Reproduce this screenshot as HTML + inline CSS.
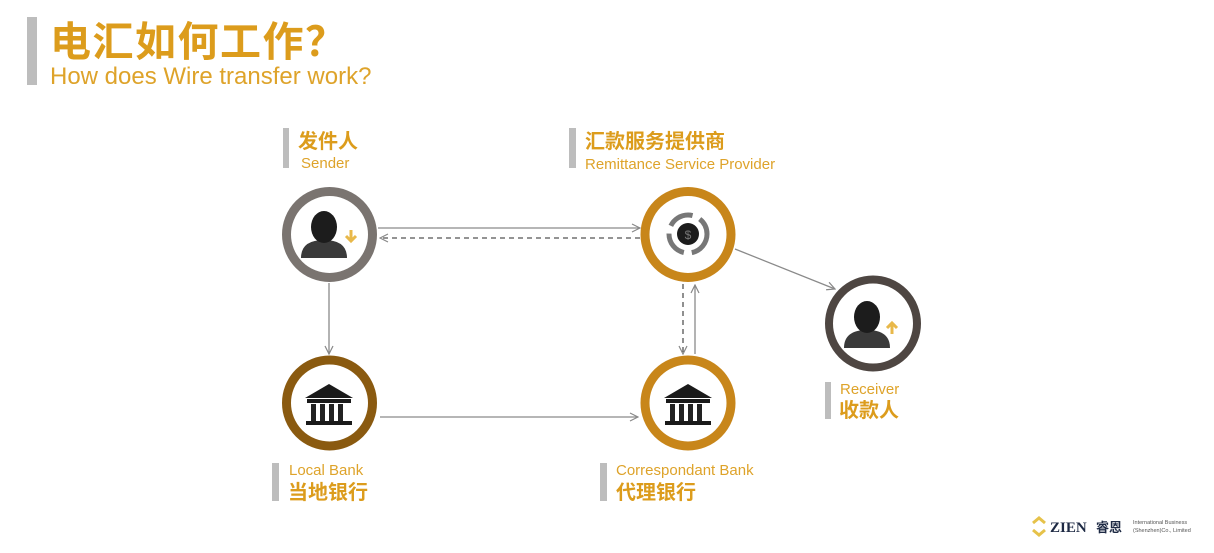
<!DOCTYPE html>
<html><head><meta charset="utf-8"><style>
body{margin:0;background:#fff;}
svg{display:block}
.cn{font-family:"Liberation Sans","Noto Sans CJK SC",sans-serif;font-weight:bold;fill:#dc9c1c}
.en{font-family:"Liberation Sans","Noto Sans CJK SC",sans-serif;fill:#dea32a}
</style></head><body>
<svg width="1214" height="553" viewBox="0 0 1214 553" xmlns="http://www.w3.org/2000/svg">
<defs>
<marker id="ah" viewBox="0 0 10 10" refX="9" refY="5" markerWidth="10" markerHeight="10" orient="auto" markerUnits="userSpaceOnUse"><path d="M1,1 L9,5 L1,9" fill="none" stroke="#888" stroke-width="1.2"/></marker>
<g id="person"><path d="M-23,22 Q-23,4 0,4 Q23,4 23,22 Z" fill="#3a3a3a"/><ellipse cx="0" cy="-9" rx="13" ry="16" fill="#1c1c1c"/></g>
<g id="bank"><path d="M-24,-8 L0,-22 L24,-8 Z" fill="#1a1a1a"/><rect x="-22" y="-7" width="44" height="4" fill="#1a1a1a"/><rect x="-18" y="-2" width="5" height="17" fill="#222"/><rect x="-9" y="-2" width="5" height="17" fill="#222"/><rect x="0" y="-2" width="5" height="17" fill="#222"/><rect x="9" y="-2" width="5" height="17" fill="#222"/><rect x="-23" y="15" width="46" height="4" fill="#1a1a1a"/></g>
</defs>
<!-- title -->
<rect x="27" y="17" width="10" height="68" fill="#bdbdbd"/>
<text x="50" y="56" class="cn" font-size="41" letter-spacing="1.5">电汇如何工作？</text>
<text x="50" y="84" class="en" font-size="24">How does Wire transfer work?</text>

<!-- labels -->
<rect x="283" y="128" width="6" height="40" fill="#bdbdbd"/>
<text x="298" y="148" class="cn" font-size="20">发件人</text>
<text x="301" y="168" class="en" font-size="15">Sender</text>
<rect x="569" y="128" width="7" height="40" fill="#bdbdbd"/>
<text x="585" y="148" class="cn" font-size="20">汇款服务提供商</text>
<text x="585" y="169" class="en" font-size="15">Remittance Service Provider</text>
<rect x="272" y="463" width="7" height="38" fill="#bdbdbd"/>
<text x="289" y="475" class="en" font-size="15">Local Bank</text>
<text x="288" y="499" class="cn" font-size="20">当地银行</text>
<rect x="600" y="463" width="7" height="38" fill="#bdbdbd"/>
<text x="616" y="475" class="en" font-size="15">Correspondant Bank</text>
<text x="616" y="499" class="cn" font-size="20">代理银行</text>
<rect x="825" y="382" width="6" height="37" fill="#bdbdbd"/>
<text x="840" y="394" class="en" font-size="15">Receiver</text>
<text x="839" y="417" class="cn" font-size="20">收款人</text>

<!-- connectors -->
<g stroke="#8a8a8a" stroke-width="1.3" fill="none">
<line x1="378" y1="228" x2="640" y2="228" marker-end="url(#ah)"/>
<line x1="640" y1="238" x2="380" y2="238" stroke="#555" stroke-dasharray="5,4" marker-end="url(#ah)"/>
<line x1="329" y1="283" x2="329" y2="354" marker-end="url(#ah)"/>
<line x1="380" y1="417" x2="638" y2="417" marker-end="url(#ah)"/>
<line x1="683" y1="284" x2="683" y2="354" stroke="#555" stroke-dasharray="5,4" marker-end="url(#ah)"/>
<line x1="695" y1="354" x2="695" y2="285" marker-end="url(#ah)"/>
<line x1="735" y1="249" x2="835" y2="289" marker-end="url(#ah)"/>
</g>

<!-- nodes -->
<circle cx="329.5" cy="234.5" r="43" fill="#fff" stroke="#7a7470" stroke-width="9"/>
<use href="#person" x="324" y="236"/>
<path d="M351,230 v10 M346,236 l5,5 l5,-5" stroke="#e8b84a" stroke-width="3" fill="none"/>

<circle cx="688" cy="234.5" r="43" fill="#fff" stroke="#c8861a" stroke-width="9"/>
<circle cx="688" cy="234" r="19" fill="none" stroke="#777" stroke-width="5" stroke-dasharray="26,8"/>
<circle cx="688" cy="234" r="11" fill="#1c1c1c"/>
<text x="688" y="239" text-anchor="middle" font-family="Liberation Sans,sans-serif" font-size="12" fill="#777">$</text>

<circle cx="873" cy="323.5" r="44" fill="#fff" stroke="#4e4642" stroke-width="8"/>
<use href="#person" x="867" y="326"/>
<path d="M892,334 v-10 M887,328 l5,-5 l5,5" stroke="#e8b84a" stroke-width="3" fill="none"/>

<circle cx="329.5" cy="403" r="43" fill="#fff" stroke="#8a5a10" stroke-width="9"/>
<use href="#bank" x="329" y="406"/>
<circle cx="688" cy="403" r="43" fill="#fff" stroke="#c8861a" stroke-width="9"/>
<use href="#bank" x="688" y="406"/>

<!-- logo -->
<path d="M1033,523 l6,-5 l6,5 M1033,530 l6,5 l6,-5" stroke="#e6c24a" stroke-width="3" fill="none"/>
<text x="1050" y="532" font-family="Liberation Serif,serif" font-weight="bold" font-size="15" fill="#1e2a44">ZIEN</text>
<text x="1096" y="532" font-family="Liberation Sans,'Noto Sans CJK SC',sans-serif" font-weight="bold" font-size="13" fill="#1e2a44">睿恩</text>
<text x="1133" y="524" font-family="Liberation Sans,sans-serif" font-size="5.5" fill="#555">International Business</text>
<text x="1133" y="532" font-family="Liberation Sans,sans-serif" font-size="5.5" fill="#555">(Shenzhen)Co., Limited</text>
</svg>
</body></html>
